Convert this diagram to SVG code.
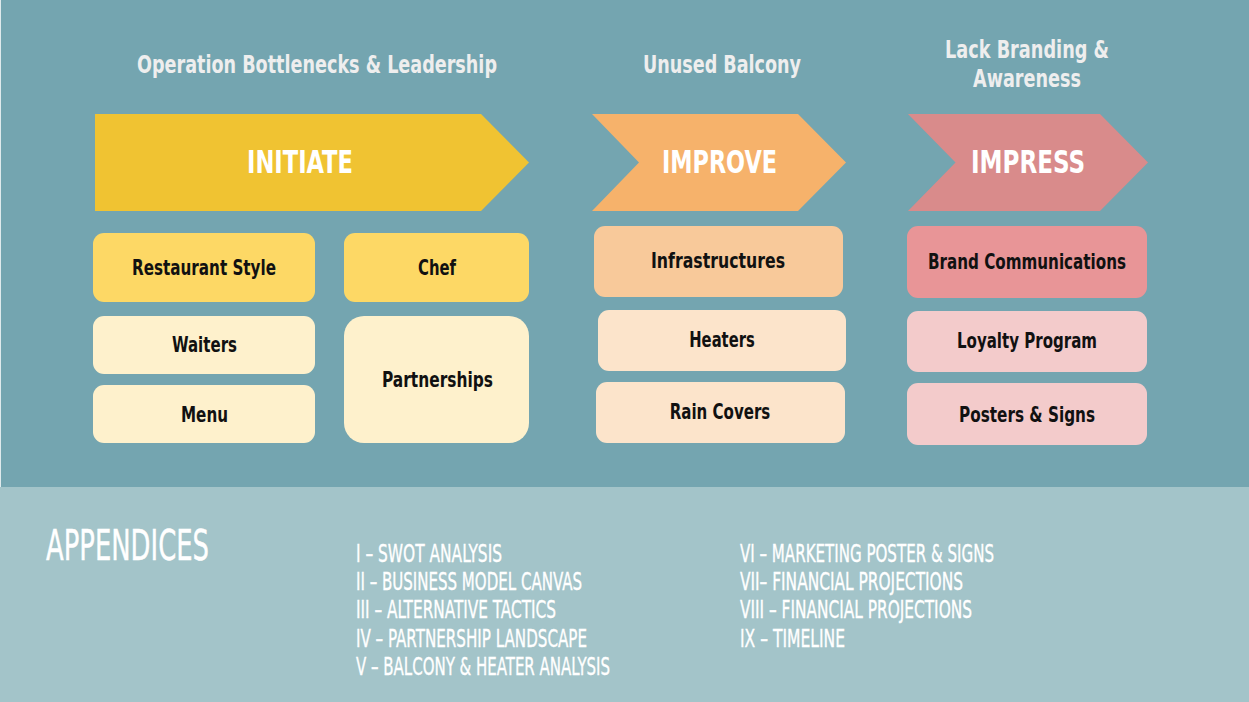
<svg xmlns="http://www.w3.org/2000/svg" width="1249" height="702" viewBox="0 0 1249 702">
<style>
.t{font-family:"Liberation Sans Narrow","DejaVu Sans Condensed","Liberation Sans",sans-serif;font-stretch:condensed}
.hd{font-size:25px;font-weight:bold;fill:#eeeeee;text-anchor:middle}
.ch{font-size:32px;font-weight:bold;fill:#ffffff;text-anchor:middle}
.bx{font-size:21px;font-weight:bold;fill:#111111;text-anchor:middle}
.ap{font-size:24.5px;fill:#ffffff;stroke:#ffffff;stroke-width:0.35}
.apt{font-size:43px;fill:#ffffff;stroke:#ffffff;stroke-width:0.4}
</style>
<rect x="0" y="0" width="1249" height="702" fill="#dfeaec"/>
<rect x="1" y="0" width="1248" height="487" fill="#74a5b0"/>
<rect x="0" y="487" width="1249" height="215" fill="#a3c4c9"/>

<g id="headers" class="t">
<text class="t hd" x="317" y="73" textLength="360" lengthAdjust="spacingAndGlyphs">Operation Bottlenecks &amp; Leadership</text>
<text class="t hd" x="722" y="73" textLength="158" lengthAdjust="spacingAndGlyphs">Unused Balcony</text>
<text class="t hd" x="1027" y="58" textLength="164" lengthAdjust="spacingAndGlyphs">Lack Branding &amp;</text>
<text class="t hd" x="1027" y="87" textLength="108" lengthAdjust="spacingAndGlyphs">Awareness</text>
</g>

<g id="initiate">
<polygon points="95,114 481,114 529,162.5 481,211 95,211" fill="#f0c332"/>
<text class="t ch" x="300" y="173" textLength="106" lengthAdjust="spacingAndGlyphs">INITIATE</text>
</g>
<g id="improve">
<polygon points="592,114 798,114 846,162.5 798,211 592,211 639,162.5" fill="#f6b26b"/>
<text class="t ch" x="719.5" y="173" textLength="115" lengthAdjust="spacingAndGlyphs">IMPROVE</text>
</g>
<g id="impress">
<polygon points="908,114 1100,114 1148,162.5 1100,211 908,211 955.5,162.5" fill="#d98b8b"/>
<text class="t ch" x="1028" y="173" textLength="114" lengthAdjust="spacingAndGlyphs">IMPRESS</text>
</g>

<g id="restaurant-style">
<rect x="93" y="233" width="222" height="69" rx="11" fill="#fdd865"/>
<text class="t bx" x="204" y="275" textLength="144" lengthAdjust="spacingAndGlyphs">Restaurant Style</text>
</g>
<g id="chef">
<rect x="344" y="233" width="185" height="69" rx="11" fill="#fdd865"/>
<text class="t bx" x="437" y="275" textLength="38" lengthAdjust="spacingAndGlyphs">Chef</text>
</g>
<g id="waiters">
<rect x="93" y="316" width="222" height="58" rx="11" fill="#fef1cc"/>
<text class="t bx" x="204.5" y="352" textLength="65" lengthAdjust="spacingAndGlyphs">Waiters</text>
</g>
<g id="menu">
<rect x="93" y="385" width="222" height="58" rx="11" fill="#fef1cc"/>
<text class="t bx" x="204.5" y="422" textLength="47" lengthAdjust="spacingAndGlyphs">Menu</text>
</g>
<g id="partnerships">
<rect x="344" y="316" width="185" height="127" rx="20" fill="#fef1cc"/>
<text class="t bx" x="437.5" y="387" textLength="111" lengthAdjust="spacingAndGlyphs">Partnerships</text>
</g>

<g id="infrastructures">
<rect x="594" y="226" width="249" height="71" rx="11" fill="#f8c99a"/>
<text class="t bx" x="718" y="268" textLength="134" lengthAdjust="spacingAndGlyphs">Infrastructures</text>
</g>
<g id="heaters">
<rect x="598" y="310" width="248" height="61" rx="11" fill="#fce4cb"/>
<text class="t bx" x="722" y="347" textLength="65.5" lengthAdjust="spacingAndGlyphs">Heaters</text>
</g>
<g id="rain-covers">
<rect x="596" y="382" width="249" height="61" rx="11" fill="#fce4cb"/>
<text class="t bx" x="720" y="419" textLength="100.5" lengthAdjust="spacingAndGlyphs">Rain Covers</text>
</g>

<g id="brand-communications">
<rect x="907" y="226" width="240" height="72" rx="11" fill="#e89597"/>
<text class="t bx" x="1027" y="269" textLength="198" lengthAdjust="spacingAndGlyphs">Brand Communications</text>
</g>
<g id="loyalty-program">
<rect x="907" y="311" width="240" height="61" rx="11" fill="#f3cbcb"/>
<text class="t bx" x="1027" y="348" textLength="140" lengthAdjust="spacingAndGlyphs">Loyalty Program</text>
</g>
<g id="posters-signs">
<rect x="907" y="383" width="240" height="62" rx="11" fill="#f3cbcb"/>
<text class="t bx" x="1027" y="422" textLength="136" lengthAdjust="spacingAndGlyphs">Posters &amp; Signs</text>
</g>

<g id="connectors"></g>

<g id="appendices">
<text class="t apt" x="46" y="560" textLength="163" lengthAdjust="spacingAndGlyphs">APPENDICES</text>
<text class="t ap" x="356" y="562" textLength="146" lengthAdjust="spacingAndGlyphs">I – SWOT ANALYSIS</text>
<text class="t ap" x="356" y="590" textLength="226" lengthAdjust="spacingAndGlyphs">II – BUSINESS MODEL CANVAS</text>
<text class="t ap" x="356" y="618" textLength="200" lengthAdjust="spacingAndGlyphs">III – ALTERNATIVE TACTICS</text>
<text class="t ap" x="356" y="647" textLength="231" lengthAdjust="spacingAndGlyphs">IV – PARTNERSHIP LANDSCAPE</text>
<text class="t ap" x="356" y="675" textLength="254" lengthAdjust="spacingAndGlyphs">V – BALCONY &amp; HEATER ANALYSIS</text>
<text class="t ap" x="740" y="562" textLength="254" lengthAdjust="spacingAndGlyphs">VI – MARKETING POSTER &amp; SIGNS</text>
<text class="t ap" x="740" y="590" textLength="223" lengthAdjust="spacingAndGlyphs">VII– FINANCIAL PROJECTIONS</text>
<text class="t ap" x="740" y="618" textLength="232" lengthAdjust="spacingAndGlyphs">VIII – FINANCIAL PROJECTIONS</text>
<text class="t ap" x="740" y="647" textLength="105" lengthAdjust="spacingAndGlyphs">IX – TIMELINE</text>
</g>
</svg>
